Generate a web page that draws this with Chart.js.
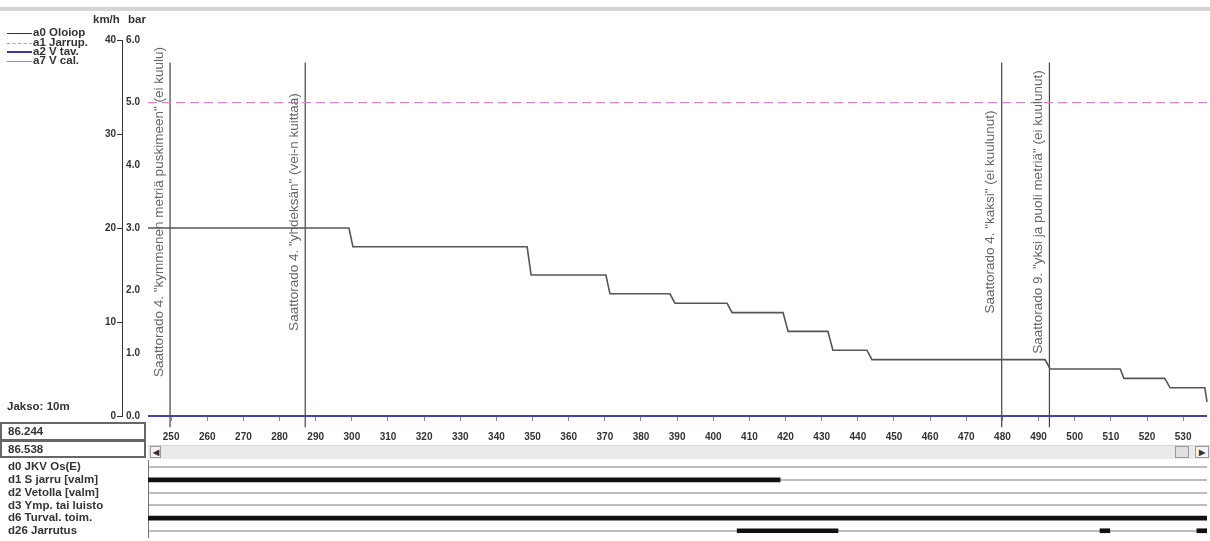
<!DOCTYPE html>
<html>
<head>
<meta charset="utf-8">
<script src="https://cdn.jsdelivr.net/npm/chart.js@4.4.1/dist/chart.umd.min.js"></script>
<style>
  body { margin: 0; width: 1210px; height: 541px; overflow: hidden; background: #fff; position: relative;
         font-family: "Liberation Sans", Arial, sans-serif; font-weight: bold; font-size: 11.5px; color: #333; }
  canvas { position: absolute; left: 0; }
  #main { top: 0; }
  #digital { top: 454px; }
  .abs { position: absolute; white-space: nowrap; }
  .topband { position: absolute; left: 0; top: 7px; width: 1210px; height: 4px; background: #d4d4d4; }
  .legend div { position: absolute; left: 7px; height: 10px; width: 100px; white-space: nowrap; }
  .legend span { position: absolute; left: 26px; top: -2px; line-height: 12px; }
  .legend i { position: absolute; left: 0; top: 5px; width: 25px; }
  .valbox { position: absolute; left: 0; width: 146px; border: 2px solid #666; line-height: 14px; padding-left: 6px; box-sizing: border-box; }
  .scroll { position: absolute; left: 148px; top: 445px; width: 1062px; height: 13px; background: #eaeaea; border-top: 1px solid #d6d6d6; }
  .btn { position: absolute; top: 0; width: 11px; height: 12px; border: 1px solid #999; background: #f4f4f4; font-size: 8px; line-height: 12px; text-align: center; box-sizing: border-box; }
</style>
</head>
<body>
<div class="topband"></div>
<canvas id="main" width="1210" height="444"></canvas>
<canvas id="digital" width="1210" height="90"></canvas>

<div class="abs" style="left:93px;top:13px;">km/h</div>
<div class="abs" style="left:128px;top:13px;">bar</div>

<div class="legend">
  <div style="top:28px;"><i style="border-top:1px solid #333;"></i><span>a0 Oloiop</span></div>
  <div style="top:38px;"><i style="border-top:1px dashed #d088c8;"></i><span>a1 Jarrup.</span></div>
  <div style="top:47px;"><i style="border-top:2px solid #3a3aa0;top:4px;"></i><span>a2 V tav.</span></div>
  <div style="top:56px;"><i style="border-top:1px solid #e07a68;"></i><span>a7 V cal.</span></div>
</div>

<div class="abs" style="left:7px;top:400px;">Jakso: 10m</div>
<div class="valbox" style="top:422px;height:19px;">86.244</div>
<div class="valbox" style="top:440px;height:18px;">86.538</div>

<div class="scroll">
  <div class="btn" style="left:2px;">&#9664;</div>
  <div class="btn" style="left:1027px;width:14px;background:#e0e0e0;"></div>
  <div class="btn" style="left:1047px;width:14px;">&#9654;</div>
</div>

<script>
// distance axis (m) and tick labels
const distMin = 243.6;
const distMax = 536.6;
const distTicks = [250, 260, 270, 280, 290, 300, 310, 320, 330, 340, 350, 360, 370, 380, 390,
                   400, 410, 420, 430, 440, 450, 460, 470, 480, 490, 500, 510, 520, 530];
const kmhTicks = [0, 10, 20, 30, 40];
const barTicks = [0, 1, 2, 3, 4, 5, 6];

// a0 Oloiop (km/h)
const speedDist = [243.6, 299.2, 300.3, 348.5, 349.6, 370.3, 371.4, 388.0, 389.4, 403.8, 405.2,
                   419.3, 420.7, 431.7, 433.1, 442.5, 443.9, 491.8, 493.2, 512.6, 513.6, 524.9,
                   526.4, 536.0, 536.6];
const speedKmh  = [20, 20, 18, 18, 15, 15, 13, 13, 12, 12, 11,
                   11, 9, 9, 7, 7, 6, 6, 5, 5, 4, 4,
                   3, 3, 1.5];

// a1 Jarrup. (bar)
const jarrupDist = [243.6, 536.6];
const jarrupBar  = [5.0, 5.0];

// a2 V tav. / a7 V cal. (km/h)
const vtavDist = [243.6, 536.6];
const vtavKmh  = [0, 0];
const vcalDist = [243.6, 536.6];
const vcalKmh  = [0, 0];

// event markers
const markerDist = [249.7, 287.1, 479.8, 493.0];
const markerTopKmh = 37.6;
const markerBottomKmh = -1.2;
const markerNotes = [
  'Saattorado 4. "kymmenen metriä puskimeen" (ei kuulu)',
  'Saattorado 4. "yhdeksän" (vei-n kuittaa)',
  'Saattorado 4. "kaksi" (ei kuulunut)',
  'Saattorado 9. "yksi ja puoli metriä" (ei kuulunut)'
];

// digital channels and their active spans
const channels = ['d0 JKV Os(E)', 'd1 S jarru [valm]', 'd2 Vetolla [valm]',
                  'd3 Ymp. tai luisto', 'd6 Turval. toim.', 'd26 Jarrutus'];
const d0Spans  = [];
const d1Spans  = [[243.6, 418.5]];
const d2Spans  = [];
const d3Spans  = [];
const d6Spans  = [[243.6, 536.6]];
const d26Spans = [[406.6, 434.5], [507.0, 509.7], [533.8, 536.6]];

const font10 = { family: '"Liberation Sans", Arial, sans-serif', size: 10, weight: 'bold' };
const fontLab = { family: '"Liberation Sans", Arial, sans-serif', size: 11.5, weight: 'bold' };

const markerText = {
  id: 'markerText',
  afterDatasetsDraw(chart) {
    const { ctx, scales } = chart;
    ctx.save();
    ctx.font = '13.5px "Liberation Sans", Arial, sans-serif';
    ctx.fillStyle = '#666';
    ctx.textAlign = 'center';
    ctx.textBaseline = 'middle';
    markerDist.forEach((d, i) => {
      ctx.save();
      ctx.translate(scales.x.getPixelForValue(d) - 11, scales.kmh.getPixelForValue(21.7));
      ctx.rotate(-Math.PI / 2);
      ctx.fillText(markerNotes[i], 0, 0);
      ctx.restore();
    });
    ctx.restore();
  }
};

const pts = (xs, ys) => xs.map((x, i) => ({ x: x, y: ys[i] }));

const mainSets = [
  { label: 'a0 Oloiop', data: pts(speedDist, speedKmh), yAxisID: 'kmh',
    borderColor: '#555', borderWidth: 1.6 },
  { label: 'a1 Jarrup.', data: pts(jarrupDist, jarrupBar), yAxisID: 'bar',
    borderColor: '#d088c8', borderWidth: 1.2, borderDash: [9, 5] },
  { label: 'a2 V tav.', data: pts(vtavDist, vtavKmh), yAxisID: 'kmh',
    borderColor: '#4444a4', borderWidth: 2 },
  { label: 'a7 V cal.', data: pts(vcalDist, vcalKmh), yAxisID: 'kmh',
    borderColor: '#e07a68', borderWidth: 1 }
];
markerDist.forEach(d => {
  mainSets.push({ data: pts([d, d], [markerBottomKmh, markerTopKmh]), yAxisID: 'kmh',
    borderColor: '#444', borderWidth: 1.2 });
});
mainSets.forEach(s => { s.clip = false; });

new Chart(document.getElementById('main'), {
  type: 'line',
  data: { datasets: mainSets },
  options: {
    responsive: false,
    animation: false,
    layout: { padding: { top: 40, right: 3 } },
    elements: { point: { radius: 0 }, line: { tension: 0 } },
    plugins: { legend: { display: false }, tooltip: { enabled: false } },
    scales: {
      x: {
        type: 'linear', min: distMin, max: distMax,
        afterBuildTicks: s => { s.ticks = distTicks.map(v => ({ value: v })); },
        afterFit: s => { s.height = 28; },
        ticks: { font: font10, color: '#333', padding: 10, maxRotation: 0, autoSkip: false },
        grid: { drawOnChartArea: false, tickLength: 5, color: '#888' },
        border: { display: false }
      },
      kmh: {
        type: 'linear', position: 'left', weight: 2, min: 0, max: 40,
        afterBuildTicks: s => { s.ticks = kmhTicks.map(v => ({ value: v })); },
        afterFit: s => { s.width = 122; },
        ticks: { font: font10, color: '#333', padding: 1 },
        grid: { drawOnChartArea: false, tickLength: 5, color: '#333' },
        border: { display: true, color: '#333', width: 1 }
      },
      bar: {
        type: 'linear', position: 'left', weight: 1, min: 0, max: 6,
        afterBuildTicks: s => { s.ticks = barTicks.map(v => ({ value: v })); },
        afterFit: s => { s.width = 26; },
        ticks: { font: font10, color: '#333', padding: 8, callback: v => v.toFixed(1) },
        grid: { display: false, drawTicks: false },
        border: { display: false }
      }
    }
  },
  plugins: [markerText]
});

const allSpans = [d0Spans, d1Spans, d2Spans, d3Spans, d6Spans, d26Spans];
const maxSeg = Math.max(...allSpans.map(s => s.length));
const digitalSets = [];
for (let k = 0; k < maxSeg; k++) {
  digitalSets.push({
    data: allSpans.map(s => s[k] || null),
    backgroundColor: '#111',
    barThickness: 4,
    grouped: false
  });
}

new Chart(document.getElementById('digital'), {
  type: 'bar',
  data: { labels: channels, datasets: digitalSets },
  options: {
    responsive: false,
    animation: false,
    indexAxis: 'y',
    layout: { padding: { left: 8, right: 3 } },
    plugins: { legend: { display: false }, tooltip: { enabled: false } },
    scales: {
      x: { type: 'linear', min: distMin, max: distMax, display: false },
      y: {
        afterFit: s => { s.width = 140; },
        ticks: { font: fontLab, color: '#333', crossAlign: 'far', padding: 0, autoSkip: false },
        grid: { offset: false, color: '#bcbcbc', lineWidth: 2, drawTicks: false },
        border: { display: true, color: '#777' }
      }
    }
  }
});
</script>
</body>
</html>
